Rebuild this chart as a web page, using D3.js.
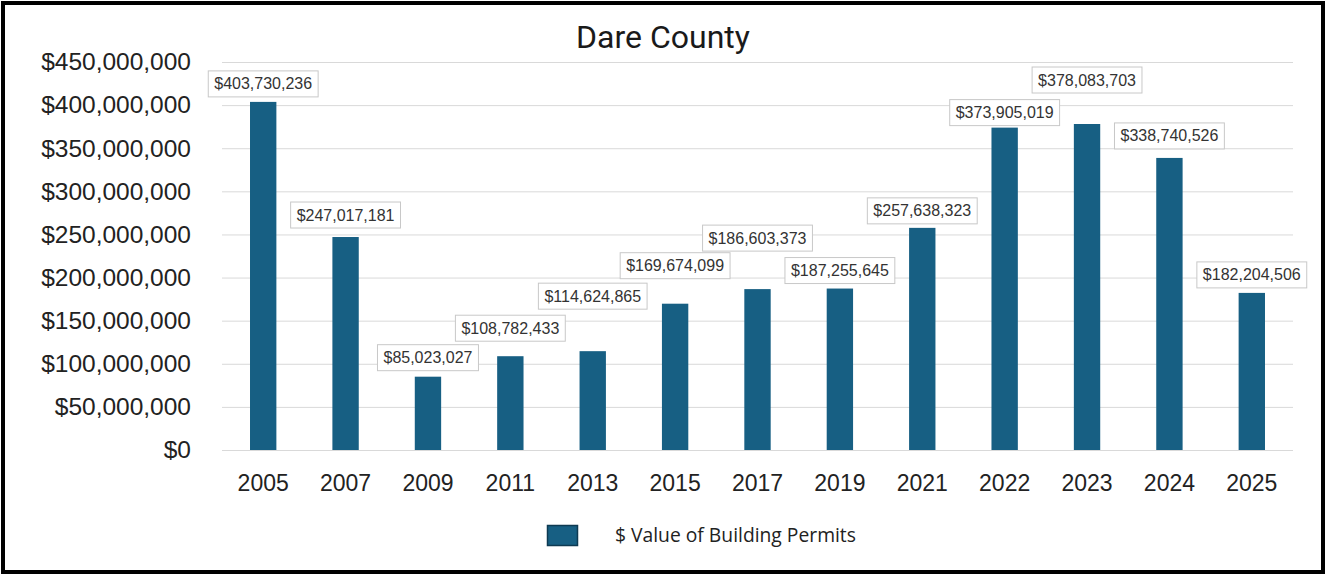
<!DOCTYPE html>
<html>
<head>
<meta charset="utf-8">
<script src="https://cdn.jsdelivr.net/npm/d3@7"></script>
<style>
  html, body { margin: 0; padding: 0; background: #fff; }
  svg { display: block; }
</style>
</head>
<body>
<svg id="chart" width="1326" height="575"></svg>
<script>
// Building permit values by year
const years = ["2005", "2007", "2009", "2011", "2013", "2015", "2017", "2019", "2021", "2022", "2023", "2024", "2025"];
const permitValues = [403730236, 247017181, 85023027, 108782433, 114624865, 169674099, 186603373, 187255645, 257638323, 373905019, 378083703, 338740526, 182204506];
const yTicks = [0, 50e6, 100e6, 150e6, 200e6, 250e6, 300e6, 350e6, 400e6, 450e6];
const seriesName = "$ Value of Building Permits";
const chartTitle = "Dare County";

// How far each value label sits above the top of its bar (px, label centre)
const labelLift = [18, 22, 19, 28, 55, 38, 51, 18, 17, 15, 44, 22, 18];

const W = 1326, H = 575;
const plot = { left: 222, right: 1293, top: 62, bottom: 450 };
const barColor = "#175f83";
const svg = d3.select("#chart");

// outer frame
svg.append("rect")
  .attr("x", 3).attr("y", 3).attr("width", W - 6).attr("height", H - 6)
  .attr("fill", "#fff").attr("stroke", "#000").attr("stroke-width", 4);

const x = d3.scaleBand().domain(years).range([plot.left, plot.right])
  .paddingInner(0.68).paddingOuter(0.34);
const y = d3.scaleLinear().domain([0, 450e6]).range([plot.bottom, plot.top]);

// title
svg.append("text")
  .attr("x", 663).attr("y", 48)
  .attr("text-anchor", "middle")
  .attr("font-family", "Roboto, 'Liberation Sans', sans-serif")
  .attr("font-size", 32).attr("fill", "#1a1a1a")
  .text(chartTitle);

// gridlines + y axis labels
const yAxis = d3.axisLeft(y).tickValues(yTicks)
  .tickSize(-(plot.right - plot.left))
  .tickPadding(31)
  .tickFormat(d => "$" + d3.format(",")(d));
const gy = svg.append("g").attr("transform", `translate(${plot.left},0)`).call(yAxis);
gy.select(".domain").remove();
gy.selectAll(".tick line").attr("stroke", "#d9d9d9").attr("stroke-width", 1);
gy.selectAll(".tick text")
  .attr("font-family", "'Liberation Sans', Arial, sans-serif")
  .attr("font-size", 24.5).attr("fill", "#222");

// x axis labels
const xAxis = d3.axisBottom(x).tickSize(0).tickPadding(25);
const gx = svg.append("g").attr("transform", `translate(0,${plot.bottom})`).call(xAxis);
gx.select(".domain").remove();
gx.selectAll(".tick text")
  .attr("font-family", "'Liberation Sans', Arial, sans-serif")
  .attr("font-size", 23).attr("fill", "#222");

// bars
svg.append("g").selectAll("rect")
  .data(permitValues)
  .join("rect")
  .attr("x", (d, i) => x(years[i]))
  .attr("width", x.bandwidth())
  .attr("y", d => y(d))
  .attr("height", d => y(0) - y(d))
  .attr("fill", barColor);

// value labels in boxes
const fmt = d => "$" + d3.format(",")(d);
const lbl = svg.append("g").selectAll("g")
  .data(permitValues)
  .join("g")
  .attr("transform", (d, i) => `translate(${x(years[i]) + x.bandwidth() / 2},${y(d) - labelLift[i]})`);
lbl.each(function (d) {
  const g = d3.select(this);
  const t = g.append("text")
    .attr("text-anchor", "middle")
    .attr("dominant-baseline", "central")
    .attr("font-family", "'Liberation Sans', Arial, sans-serif")
    .attr("font-size", 16).attr("fill", "#333")
    .text(fmt(d));
  const w = t.node().getComputedTextLength() + 12;
  g.insert("rect", "text")
    .attr("x", -w / 2).attr("y", -13)
    .attr("width", w).attr("height", 26)
    .attr("fill", "#fff").attr("stroke", "#c8c8c8").attr("stroke-width", 1);
});

// legend
const lg = svg.append("g");
lg.append("rect")
  .attr("x", 547.5).attr("y", 525.5).attr("width", 30).attr("height", 20)
  .attr("fill", barColor).attr("stroke", "#0e3a52").attr("stroke-width", 1.5);
lg.append("text")
  .attr("x", 615).attr("y", 542)
  .attr("font-family", "'Open Sans', sans-serif")
  .attr("font-size", 19.3).attr("fill", "#222")
  .text(seriesName);
</script>
</body>
</html>
